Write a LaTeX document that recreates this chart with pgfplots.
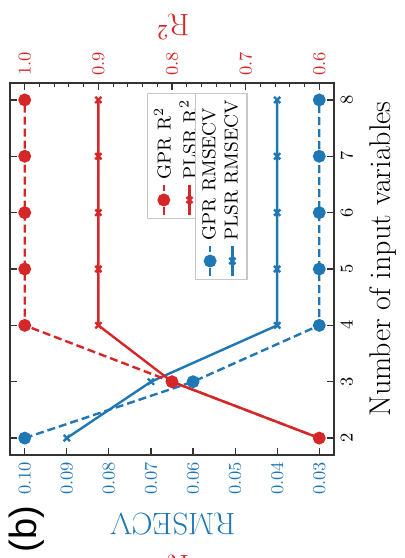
\documentclass[border=0pt]{standalone}
\usepackage{pgfplots}
\usepackage{pgfplotstable}
\pgfplotsset{compat=1.18}
\usepackage{fontspec}
\newfontfamily\panelfont{Liberation Sans}

\definecolor{cred}{HTML}{D62728}
\definecolor{cblue}{HTML}{1F77B4}
\definecolor{frame}{HTML}{333333}

% RMSECV of both models against the number of input variables
\pgfplotstableread{
n gpr plsr
2 0.100 0.090
3 0.060 0.070
4 0.030 0.040
5 0.030 0.040
6 0.030 0.040
7 0.030 0.040
8 0.030 0.040
}\rmsecv

% R^2 of both models against the number of input variables
\pgfplotstableread{
n gpr plsr
2 0.60 0.60
3 0.80 0.80
4 1.00 0.90
5 1.00 0.90
6 1.00 0.90
7 1.00 0.90
8 1.00 0.90
}\rsq

\pgfplotsset{
  turned/.style={
    scale only axis, width=162pt, height=186pt,
    at={(0,0)}, anchor=south west,
    ymin=1.7, ymax=8.3, x dir=reverse,
    axis line style={frame, line width=0.6pt},
    major tick style={frame, line width=0.6pt},
    minor tick style={frame, line width=0.5pt},
    major tick length=3.5pt, minor tick length=2pt,
    tick align=inside,
    tick label style={font=\fontsize{9}{10}\selectfont},
  },
  gpr/.style={dash pattern=on 4pt off 2pt, line width=1.2pt, mark=*,
    mark size=2.6pt, mark options={solid}},
  plsr/.style={solid, line width=1.2pt, mark=x, mark size=2.2pt,
    mark options={solid, line width=1.2pt}},
  % key box: an empty hidden axis that only carries a legend
  keybox/.style={
    hide axis, scale only axis, width=100pt, height=100pt,
    at={(0,0)}, anchor=south west, xmin=0, xmax=1, ymin=0, ymax=1,
    legend cell align=left,
    legend image code/.code={
      \draw[mark repeat=2, mark phase=2, ##1]
        plot coordinates {(0pt,0pt) (7.5pt,0pt) (15pt,0pt)};},
    legend style={anchor=north east, draw=black!22, line width=0.6pt,
      fill=white, font=\fontsize{9.4}{11}\selectfont,
      inner sep=1.2pt, row sep=-1pt,
      nodes={inner xsep=2pt}},
  },
}

\begin{document}
\begin{tikzpicture}
% RMSECV (lower scale) and the variable axis
\begin{axis}[turned, clip mode=individual,
  xmin=0.0265, xmax=0.1035,
  xtick={0.03,0.04,0.05,0.06,0.07,0.08,0.09,0.10},
  xticklabels={0.03,0.04,0.05,0.06,0.07,0.08,0.09,0.10},
  xtick pos=left,
  xticklabel style={rotate=90, anchor=east, text=cblue},
  ytick={2,3,4,5,6,7,8},
  ytick pos=both, yticklabel pos=right,
  yticklabel style={rotate=90, anchor=north},
  xlabel={RMSECV},
  xlabel style={at={(axis description cs:0.503,-0.185)}, anchor=center,
    rotate=180, text=cblue, font=\fontsize{15.5}{17}\selectfont},
  ylabel={Number of input variables},
  ylabel style={at={(axis description cs:1.151,0.527)}, anchor=center,
    rotate=0, font=\fontsize{15}{17}\selectfont},
]
\addplot[cblue, gpr] table[x=gpr, y=n] {\rmsecv};
\addplot[cblue, plsr] table[x=plsr, y=n] {\rmsecv};
\node[rotate=90, font=\panelfont\fontsize{19}{21}\selectfont]
  at (axis description cs:0.051,-0.2) {(b)};
\node[rotate=180, anchor=base, text=cred, font=\fontsize{15.5}{17}\selectfont]
  at (axis description cs:0.503,-0.271) {R$^2$};
\end{axis}
% R^2 (upper scale)
\begin{axis}[turned,
  xmin=0.58, xmax=1.02,
  axis x line*=top, axis y line=none,
  xtick={0.6,0.7,0.8,0.9,1.0},
  xticklabels={0.6,0.7,0.8,0.9,1.0},
  minor x tick num=4,
  xticklabel style={rotate=90, anchor=west, text=cred},
  xlabel={R$^2$},
  xlabel style={at={(axis description cs:0.503,1.151)}, anchor=center,
    rotate=180, text=cred, font=\fontsize{15.5}{17}\selectfont},
]
\addplot[cred, gpr] table[x=gpr, y=n] {\rsq};
\addplot[cred, plsr] table[x=plsr, y=n] {\rsq};
\end{axis}
% the two keys, turned a quarter turn like the rest of the panel
\begin{scope}[transform canvas={rotate=90}]
\begin{axis}[keybox,
  legend style={at={(axis description cs:1.81,-0.685)}}]
\addlegendimage{cred, gpr}
\addlegendentry{GPR R$^2$}
\addlegendimage{cred, plsr}
\addlegendentry{PLSR R$^2$}
\end{axis}
\begin{axis}[keybox,
  legend style={at={(axis description cs:1.81,-0.925)}}]
\addlegendimage{cblue, gpr}
\addlegendentry{GPR RMSECV}
\addlegendimage{cblue, plsr}
\addlegendentry{PLSR RMSECV}
\end{axis}
\end{scope}
\pgfresetboundingbox
\path[use as bounding box] (-5pt,-51.5pt) rectangle (197.5pt,227.5pt);
\end{tikzpicture}
\end{document}
